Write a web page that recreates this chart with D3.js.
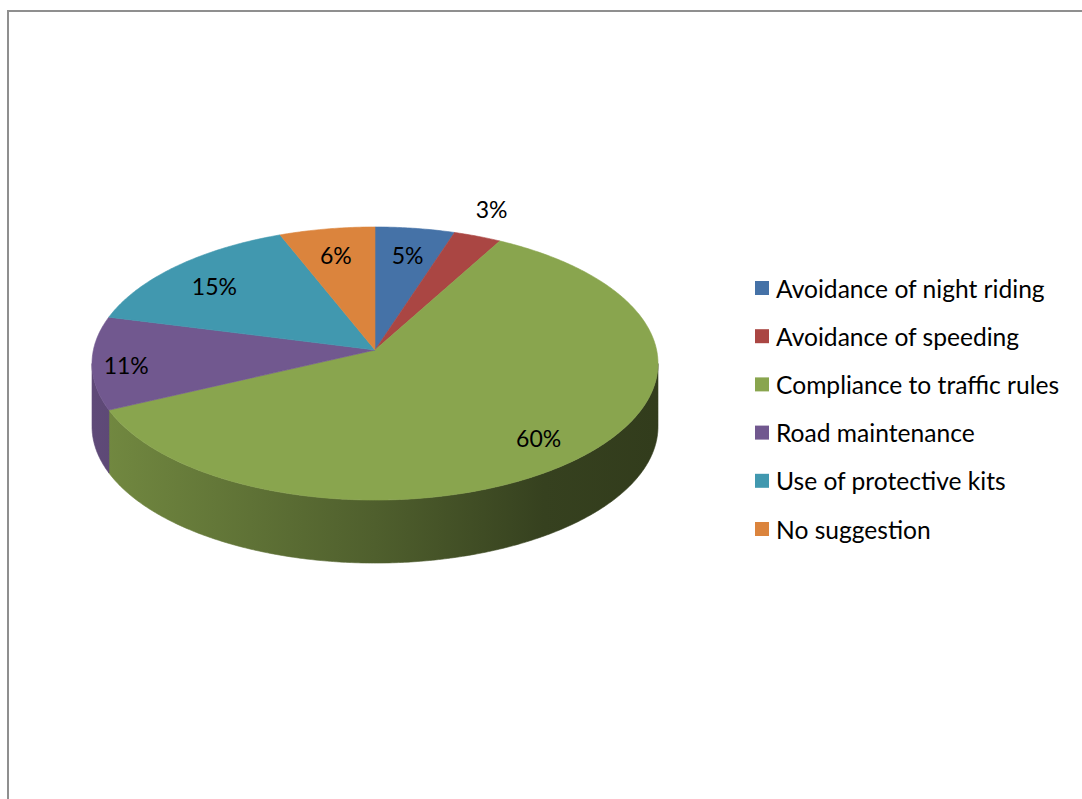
<!DOCTYPE html>
<html>
<head>
<meta charset="utf-8">
<script src="https://cdn.jsdelivr.net/npm/d3@7"></script>
<style>
  html, body { margin: 0; padding: 0; background: #fff; }
  svg { display: block; }
  text { font-family: Lato, "Open Sans", sans-serif; fill: #000; }
</style>
</head>
<body>
<svg id="chart" width="1082" height="799"></svg>
<script>
// Survey responses: suggestions for reducing road accidents (%)
const categories = [
  "Avoidance of night riding",
  "Avoidance of speeding",
  "Compliance to traffic rules",
  "Road maintenance",
  "Use of protective kits",
  "No suggestion"
];
const values = [5, 3, 60, 11, 15, 6];
const colors = ["#4572A7", "#AA4643", "#89A54E", "#71588F", "#4198AF", "#DB843D"];

const W = 1082, H = 799;
const svg = d3.select("#chart");
const defs = svg.append("defs");

// Frame (open at the right and bottom edges)
svg.append("rect")
  .attr("x", 8).attr("y", 11)
  .attr("width", W + 20).attr("height", H + 20)
  .attr("fill", "none")
  .attr("stroke", "#8f8f8f")
  .attr("stroke-width", 2);

// 3D pie geometry with a mild perspective
const cx = 375, cy = 350;     // apex of the slices
const rx = 281.6, ry = 135.2; // base radii of the top face
const k = 0.099;              // perspective strength (far half shrinks)
const depth = 63;             // thickness of the disc

// project angle (clockwise from 12 o'clock) and radius fraction onto the screen
function proj(theta, f = 1, h = 0) {
  const u = Math.sin(theta) * f, v = Math.cos(theta) * f;
  const s = 1 / (1 + k * v);
  return [cx + rx * u * s, cy - ry * v * s + h];
}

const pie = d3.pie().sort(null).value(d => d)(values);

// the front wall is visible between the two silhouette angles
const silA = Math.acos(-k);            // right silhouette
const silB = 2 * Math.PI - silA;       // left silhouette

function arcPoints(a0, a1, h) {
  const n = Math.max(2, Math.ceil(Math.abs(a1 - a0) / 0.01));
  return d3.range(n + 1).map(i => proj(a0 + (a1 - a0) * i / n, 1, h));
}

// Shaded gradients for the side walls
const x0 = cx - rx, x1 = cx + rx;
colors.forEach((c, i) => {
  const g = defs.append("linearGradient")
    .attr("id", "side" + i)
    .attr("gradientUnits", "userSpaceOnUse")
    .attr("x1", x0).attr("x2", x1).attr("y1", 0).attr("y2", 0);
  [[0, 0.5], [0.5, 1.55], [0.8, 2.6], [1, 2.85]].forEach(([o, dk]) => {
    g.append("stop").attr("offset", o).attr("stop-color", d3.color(c).darker(dk).formatHex());
  });
});

const line = d3.line();

// Side walls
const walls = svg.append("g");
pie.forEach((d, i) => {
  const a0 = Math.max(d.startAngle, silA);
  const a1 = Math.min(d.endAngle, silB);
  if (a1 <= a0) return;
  const top = arcPoints(a0, a1, 0);
  const bot = arcPoints(a1, a0, depth);
  walls.append("path")
    .attr("d", line(top.concat(bot)) + "Z")
    .attr("fill", `url(#side${i})`)
    .attr("stroke", `url(#side${i})`)
    .attr("stroke-width", 0.6);
});

// Top faces
const tops = svg.append("g");
pie.forEach((d, i) => {
  const pts = [[cx, cy]].concat(arcPoints(d.startAngle, d.endAngle, 0));
  tops.append("path")
    .attr("d", line(pts) + "Z")
    .attr("fill", colors[i])
    .attr("stroke", colors[i])
    .attr("stroke-width", 0.6)
    .attr("stroke-linejoin", "round");
});

// Percentage labels (small slices get theirs outside the rim)
const fmt = d => d + "%";
pie.forEach((d, i) => {
  const mid = (d.startAngle + d.endAngle) / 2;
  const outside = d.value < 4;
  const f = outside ? 1.24 : (d.value > 8 && d.value < 13 ? 0.88 : 0.8);
  const [lx, ly] = proj(mid, f, 0);
  svg.append("text")
    .attr("x", outside ? lx - 8 : lx).attr("y", ly + (outside ? -3 : 4))
    .attr("text-anchor", "middle")
    .attr("dominant-baseline", "central")
    .style("font-size", "23px")
    .text(fmt(d.value));
});

// Legend
const legend = svg.append("g").attr("transform", "translate(755,288)");
const row = legend.selectAll("g").data(categories).join("g")
  .attr("transform", (d, i) => `translate(0,${i * 48.2})`);
row.append("rect")
  .attr("x", 0).attr("y", -7).attr("width", 14).attr("height", 14)
  .attr("fill", (d, i) => colors[i]);
row.append("text")
  .attr("x", 21).attr("y", 0)
  .attr("dominant-baseline", "central")
  .style("font-size", "24.6px")
  .text(d => d);
</script>
</body>
</html>
